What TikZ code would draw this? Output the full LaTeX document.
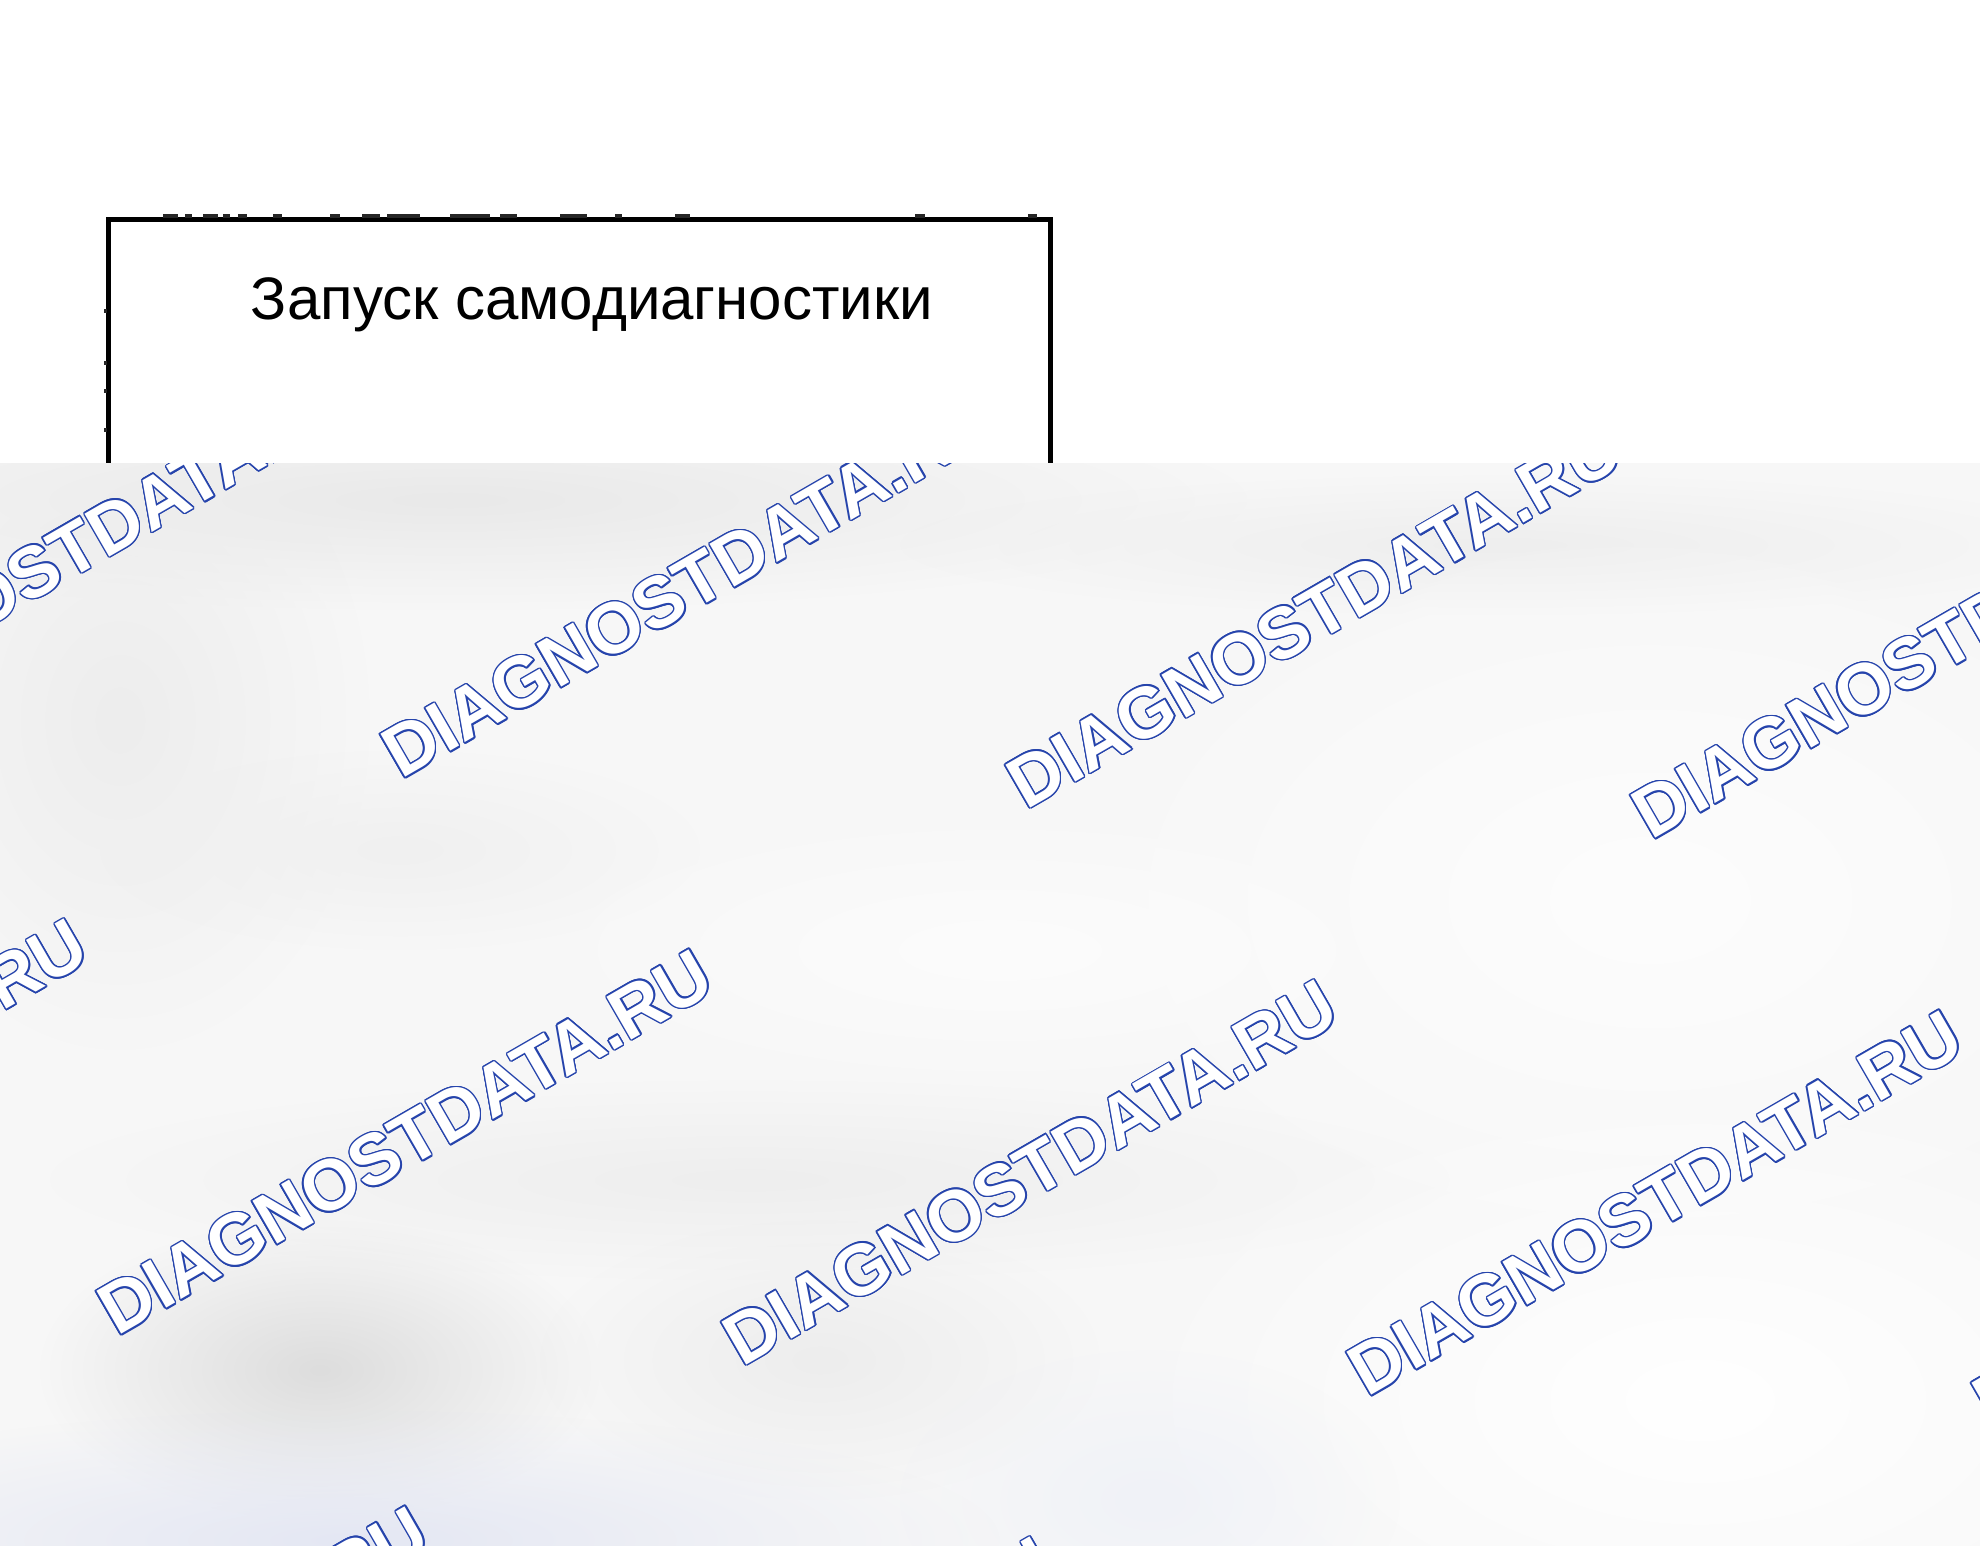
\documentclass[tikz,border=0pt]{standalone}
\usepackage{fontspec}
\setmainfont{Liberation Sans}
\usetikzlibrary{fadings}
\definecolor{wmblue}{RGB}{38,68,172}
\definecolor{gbase}{HTML}{F7F7F7}
\tikzfading[name=softblob, inner color=transparent!0, outer color=transparent!100]
\newcommand{\wmword}{DIAGNOSTDATA.RU}
\newcommand{\wmcopy}[2]{\rlap{\kern#1\raise#2\hbox{\textcolor{wmblue}{\wmword}}}}
\newcommand{\wmtext}{%
\wmcopy{0.7pt}{0pt}\wmcopy{0.647pt}{0.268pt}\wmcopy{0.495pt}{0.495pt}\wmcopy{0.268pt}{0.647pt}%
\wmcopy{0pt}{0.7pt}\wmcopy{-0.268pt}{0.647pt}\wmcopy{-0.495pt}{0.495pt}\wmcopy{-0.647pt}{0.268pt}%
\wmcopy{-0.7pt}{0pt}\wmcopy{-0.647pt}{-0.268pt}\wmcopy{-0.495pt}{-0.495pt}\wmcopy{-0.268pt}{-0.647pt}%
\wmcopy{0pt}{-0.7pt}\wmcopy{0.268pt}{-0.647pt}\wmcopy{0.495pt}{-0.495pt}\wmcopy{0.647pt}{-0.268pt}%
\textcolor{white}{\wmword}}
\begin{document}
\begin{tikzpicture}[x=0.5pt,y=-0.5pt,
  framebox/.style={draw=black,line width=2.5pt,rectangle,inner sep=0pt,
    minimum width=470.75pt,minimum height=490.25pt},
  titletext/.style={font=\fontsize{30pt}{36pt}\selectfont,inner sep=0pt,anchor=base},
  wmark/.style={font=\fontsize{36pt}{40pt}\selectfont\bfseries,inner sep=0pt,
    anchor=base west,rotate=30},
  speck/.style={fill=black!85}]
\useasboundingbox (0,0) rectangle (1980,1546);
\fill[white] (0,0) rectangle (1980,1546);
% frame and its title
\node[framebox] (box) at (579.25,709.75) {};
\node[titletext] (title) at (592,320) {Запуск самодиагностики};
% small marks along the frame's top and left edges
\foreach \a/\b in {163/178,185/192,203/218,223/230,238/247,273/282,330/340,362/380,
  387/420,450/490,500/517,560/587,615/622,675/690,915/925,1028/1037}
  \fill[speck] (\a,214.5) rectangle (\b,218);
\foreach \a/\b in {309/313,361/365,389/393,428/432}
  \fill[speck] (103.5,\a) rectangle (107,\b);
% blurred overlay
\begin{scope}
\clip (0,463) rectangle (1980,1546);
\fill[gbase] (0,463) rectangle (1980,1546);
\foreach \cx/\cy/\rx/\ry/\col in {
  450/500/800/110/E9E9E9,
  1500/545/600/70/EEEEEE,
  120/720/250/330/EDEDED,
  400/850/300/100/F0F0F0,
  1650/900/600/380/FDFDFD,
  1000/950/500/150/FCFCFC,
  750/1180/700/100/EEEEEE,
  320/1370/280/150/DDDDDD,
  820/1360/280/140/EDEDED,
  350/1540/650/130/E4E7F3,
  1700/1400/600/330/FFFFFF,
  1150/1500/250/150/F0F2F8}
  {\definecolor{blobc}{HTML}{\col}
   \fill[blobc,path fading=softblob] (\cx,\cy) ellipse [x radius=\rx, y radius=\ry];}
% watermarks
\foreach \sx/\sy [count=\i] in {-224/749.5,401/780,1026/810.5,1651/841,
  -508/1306.5,117/1337,742/1367.5,1367/1398,1992/1428.5,
  -167/1894,458/1924.5}
  \node[wmark] (wm\i) at (\sx,\sy) {\wmtext};
\end{scope}
\end{tikzpicture}
\end{document}
